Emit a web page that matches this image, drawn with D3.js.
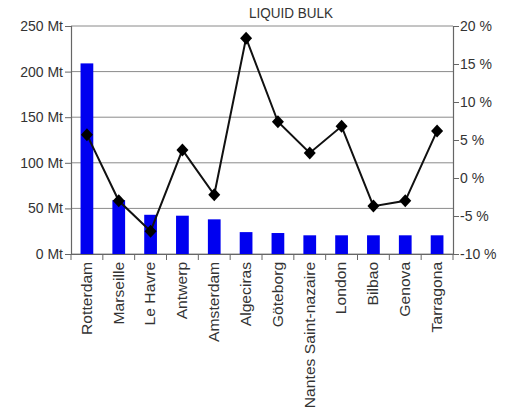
<!DOCTYPE html>
<html><head><meta charset="utf-8">
<script src="https://cdn.jsdelivr.net/npm/d3@7"></script>
<style>body{margin:0;background:#fff;} text{font-family:"Liberation Sans",Arial,sans-serif;}</style>
</head><body>
<svg id="c" width="507" height="416"></svg>
<script>
const ports = ["Rotterdam","Marseille","Le Havre","Antwerp","Amsterdam","Algeciras","Göteborg","Nantes Saint-nazaire","London","Bilbao","Genova","Tarragona"];
const volumes = [209, 59, 43, 42, 38, 24, 23, 20.5, 20.5, 20.5, 20.5, 20.5];
const growth = [5.7, -3.0, -7.0, 3.7, -2.2, 18.4, 7.4, 3.3, 6.8, -3.7, -3.0, 6.2];
const leftTicks = [0, 50, 100, 150, 200, 250];
const rightTicks = [-10, -5, 0, 5, 10, 15, 20];
const title = "LIQUID BULK";

const svg = d3.select("#c");
const L = 71, R = 453, T = 26, B = 254;
const x = d3.scaleBand().domain(ports).range([L, R]).paddingInner(0.6).paddingOuter(0.3);
const xb = d3.scaleBand().domain(ports).range([L, R]);
const y = d3.scaleLinear().domain([0, 250]).range([B, T]);
const y2 = d3.scaleLinear().domain([-10, 20]).range([B, T]);
const txt = "#333";

// gridlines
svg.append("g").selectAll("line").data(leftTicks).join("line")
  .attr("x1", L).attr("x2", R).attr("y1", d => y(d)).attr("y2", d => y(d))
  .attr("stroke", "#8a8a8a").attr("stroke-width", 1);

// bars
svg.append("g").selectAll("rect").data(ports).join("rect")
  .attr("x", d => x(d)).attr("width", x.bandwidth())
  .attr("y", (d, i) => y(volumes[i])).attr("height", (d, i) => B - y(volumes[i]))
  .attr("fill", "#0000f0");

// left axis
const la = svg.append("g").attr("transform", `translate(${L},0)`)
  .call(d3.axisLeft(y).tickValues(leftTicks).tickFormat(d => d + " Mt").tickSize(6).tickPadding(2));
// right axis
const ra = svg.append("g").attr("transform", `translate(${R},0)`)
  .call(d3.axisRight(y2).tickValues(rightTicks).tickFormat(d => d + " %").tickSize(6).tickPadding(1));
// bottom axis
const ba = svg.append("g").attr("transform", `translate(0,${B})`)
  .call(d3.axisBottom(xb).tickSize(0).tickPadding(8));
[la, ra, ba].forEach(g => {
  g.select(".domain").attr("stroke", "#666").attr("stroke-width", 1.2);
  g.selectAll(".tick line").attr("stroke", "#666");
  g.selectAll("text").attr("fill", txt).attr("font-size", 14).attr("font-family", "Liberation Sans, Arial, sans-serif");
});
ba.selectAll(".tick text").attr("transform", "rotate(-90) scale(1.12,1)").attr("text-anchor", "end")
  .attr("dy", "0.35em").attr("x", -7).attr("y", 0);
// category separator ticks
const seps = ports.map(p => xb(p)).concat([R]);
svg.append("g").selectAll("line").data(seps).join("line")
  .attr("x1", d => d).attr("x2", d => d).attr("y1", B).attr("y2", B + 6).attr("stroke", "#666");

// growth line
const cx = p => x(p) + x.bandwidth() / 2;
svg.append("path").datum(ports)
  .attr("d", d3.line().x(d => cx(d)).y((d, i) => y2(growth[i])))
  .attr("fill", "none").attr("stroke", "#111").attr("stroke-width", 2);
svg.append("g").selectAll("path").data(ports).join("path")
  .attr("d", "M0,-6.5L6,0L0,6.5L-6,0Z")
  .attr("transform", (d, i) => `translate(${cx(d)},${y2(growth[i])})`)
  .attr("fill", "#000");

// title
svg.append("text").attr("transform", "translate(291,18) scale(1,1.15)").attr("text-anchor", "middle")
  .attr("font-size", 13.5).attr("fill", txt).text(title);
</script>
</body></html>
